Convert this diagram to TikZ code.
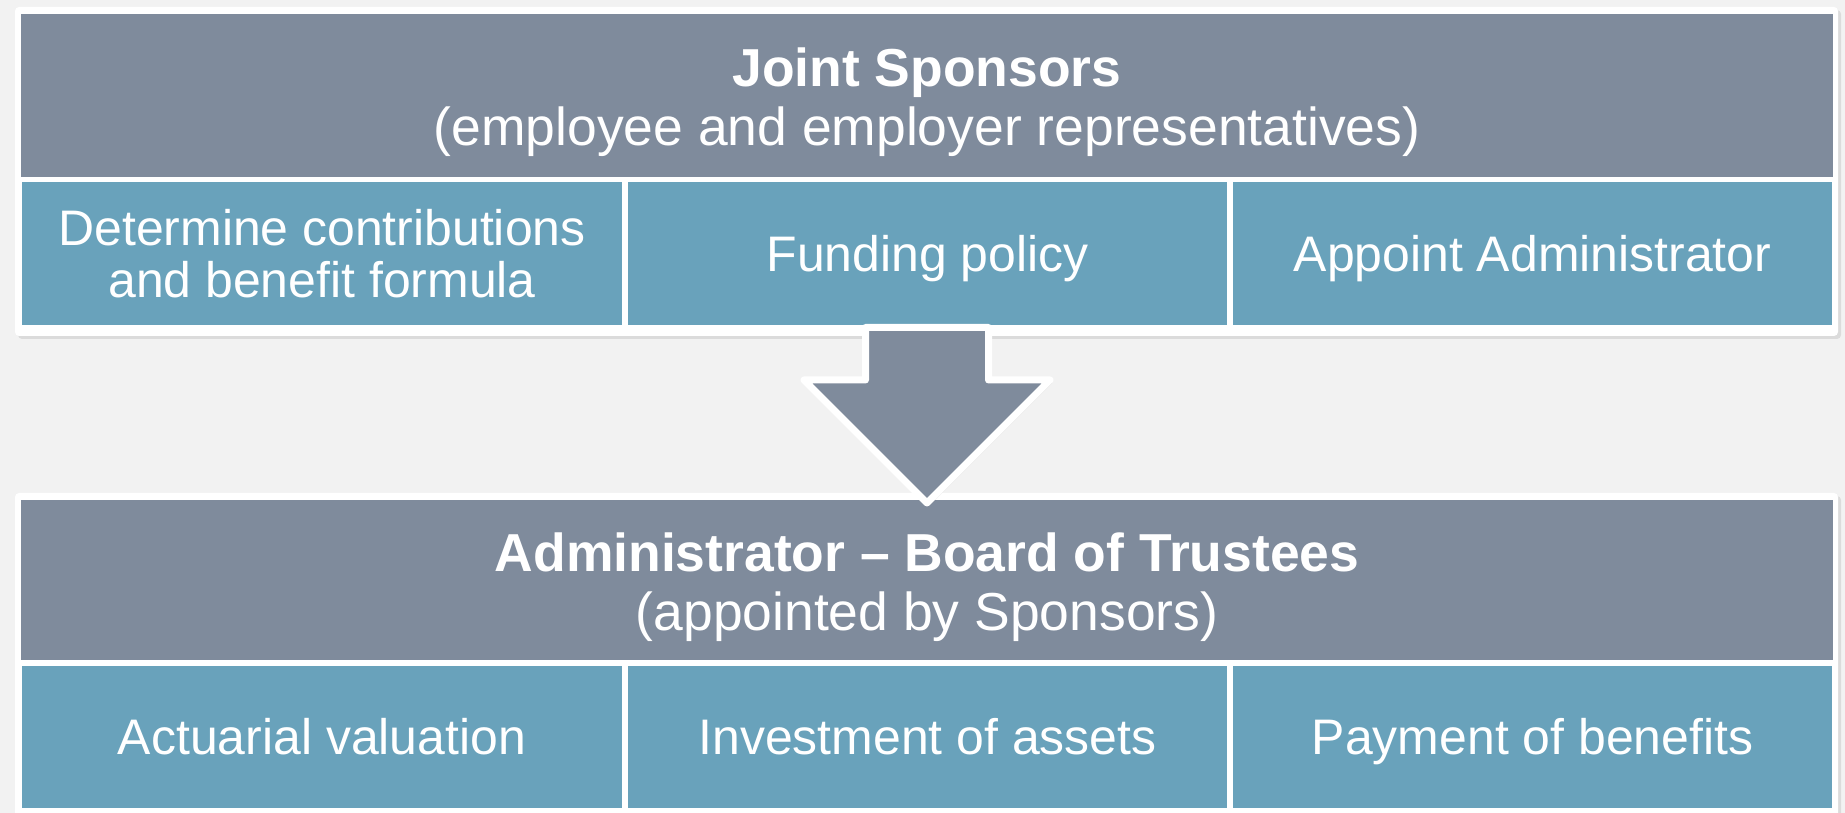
\documentclass[tikz,border=0pt]{standalone}
\usepackage{fontspec}
\setmainfont{Liberation Sans}
\usetikzlibrary{shadows}
\definecolor{pagebg}{HTML}{F2F2F2}
\definecolor{headgray}{HTML}{7F8B9C}
\definecolor{cellteal}{HTML}{69A2BB}
\newcommand{\celltop}{\rule{0pt}{14.2pt}}
\newcommand{\headtop}{\rule{0pt}{15.8pt}}
\newcommand{\linebot}{\rule[-4pt]{0pt}{4pt}}

\begin{document}
\begin{tikzpicture}[x=0.01cm, y=-0.01cm,
	txt/.style={text=white, align=center, font=\fontsize{14.2pt}{15pt}\selectfont},
	panel/.style={fill=white, rounded corners=0.04cm, drop shadow={shadow xshift=0.03cm, shadow yshift=-0.03cm, opacity=0.2}},
	headbox/.style={txt, font=\fontsize{15.2pt}{16.8pt}\selectfont, fill=headgray, inner sep=0, minimum width=18.10cm, minimum height=1.63cm},
	cellbox/.style={txt, fill=cellteal, inner sep=0, minimum width=5.99cm, minimum height=1.43cm},
	bigarrow/.style={fill=headgray, draw=white, line width=0.07cm, line join=round, drop shadow={shadow xshift=0.02cm, shadow yshift=-0.03cm, opacity=0.2}}]
	
	\fill[pagebg] (0,0) rectangle (1845,813);
	\useasboundingbox (0,0) rectangle (1845,813);
	
	\path[panel] (15,7) rectangle (1838,336); % top panel
	\node[headbox] (sponsors) at (927,95.5) {\headtop\textbf{Joint Sponsors}\\(employee and employer representatives)\linebot};
	\node[cellbox] (contrib) at (322,253.5) {\celltop Determine contributions\\and benefit formula\linebot};
	\node[cellbox] (funding) at (927.5,253.5) {\celltop Funding policy\linebot};
	\node[cellbox] (appoint) at (1532.5,253.5) {\celltop Appoint Administrator\linebot};
	
	\path[panel] (15,493) rectangle (1838,830); % bottom panel
	\node[headbox, minimum height=1.60cm] (admin) at (927,580) {\headtop\textbf{Administrator -- Board of Trustees}\\(appointed by Sponsors)\linebot};
	\node[cellbox, minimum height=1.42cm] (valuation) at (322,737) {\celltop Actuarial valuation\linebot};
	\node[cellbox, minimum height=1.42cm] (invest) at (927.5,737) {\celltop Investment of assets\linebot};
	\node[cellbox, minimum height=1.42cm] (payment) at (1532.5,737) {\celltop Payment of benefits\linebot};
	
	\draw[bigarrow] (865.5,327.5) -- (988.5,327.5) -- (988.5,380) -- (1050,380) -- (927,503) -- (804,380) -- (865.5,380) -- cycle; % arrow
	
\end{tikzpicture}
\end{document}
